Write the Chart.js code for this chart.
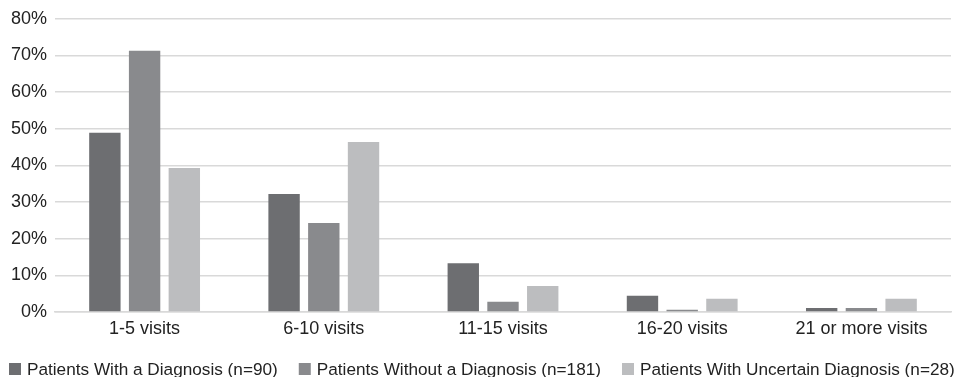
<!DOCTYPE html>
<html>
<head>
<meta charset="utf-8">
<script src="https://cdn.jsdelivr.net/npm/chart.js@4/dist/chart.umd.min.js"></script>
<style>
  html, body { margin: 0; padding: 0; background: #ffffff; }
  #wrap { width: 959px; height: 377px; position: relative; }
</style>
</head>
<body>
<div id="wrap"><canvas id="c"></canvas></div>
<script>
// Visit-count buckets along the x axis
const categories = ['1-5 visits', '6-10 visits', '11-15 visits', '16-20 visits', '21 or more visits'];

// Share of patients (%) in each bucket, per group
const withDiagnosis = [48.9, 32.2, 13.3, 4.4, 1.1];
const withoutDiagnosis = [71.3, 24.3, 2.8, 0.6, 1.1];
const uncertainDiagnosis = [39.3, 46.4, 7.1, 3.6, 3.6];

const seriesNames = [
  'Patients With a Diagnosis (n=90)',
  'Patients Without a Diagnosis (n=181)',
  'Patients With Uncertain Diagnosis (n=28)'
];
const seriesColors = ['#6d6e71', '#898a8d', '#bcbdbf'];

const yTicks = [0, 10, 20, 30, 40, 50, 60, 70, 80];

const FONT = "'Liberation Sans', Arial, sans-serif";
const TEXT = '#222222';

// Single-row legend along the bottom edge, drawn from the chart's datasets
const bottomLegend = {
  id: 'bottomLegend',
  afterDraw(chart) {
    const ctx = chart.ctx;
    const box = 12, gapText = 6, gapItem = 21, cy = 369;
    let x = 9;
    ctx.save();
    ctx.font = '17.2px ' + FONT;
    ctx.textBaseline = 'middle';
    ctx.textAlign = 'left';
    chart.data.datasets.forEach(ds => {
      ctx.fillStyle = ds.backgroundColor;
      ctx.fillRect(x, cy - box / 2, box, box);
      x += box + gapText;
      ctx.fillStyle = TEXT;
      ctx.fillText(ds.label, x, cy + 1);
      x += ctx.measureText(ds.label).width + gapItem;
    });
    ctx.restore();
  }
};

new Chart(document.getElementById('c'), {
  type: 'bar',
  data: {
    labels: categories,
    datasets: [withDiagnosis, withoutDiagnosis, uncertainDiagnosis].map((vals, i) => ({
      label: seriesNames[i],
      data: vals,
      backgroundColor: seriesColors[i],
      borderWidth: 0,
      barPercentage: 0.79,
      categoryPercentage: 0.665
    }))
  },
  plugins: [bottomLegend],
  options: {
    responsive: true,
    maintainAspectRatio: false,
    animation: false,
    layout: { padding: { left: 0, right: 8, top: 12, bottom: 37 } },
    plugins: {
      tooltip: { enabled: false },
      legend: { display: false }
    },
    scales: {
      x: {
        afterFit: (axis) => { axis.height = 28; },
        grid: { display: false, drawTicks: false },
        border: { display: true, color: '#d9d9d9', width: 1.5 },
        ticks: { color: TEXT, font: { family: FONT, size: 18 }, padding: 6 }
      },
      y: {
        min: 0,
        max: 80,
        afterBuildTicks: (axis) => { axis.ticks = yTicks.map(v => ({ value: v })); },
        afterFit: (axis) => { axis.width = 55; },
        grid: { color: '#d9d9d9', lineWidth: 1.5, drawTicks: false },
        border: { display: false },
        ticks: {
          color: TEXT,
          font: { family: FONT, size: 18 },
          padding: 8,
          callback: (v) => v + '%'
        }
      }
    }
  }
});
</script>
</body>
</html>
